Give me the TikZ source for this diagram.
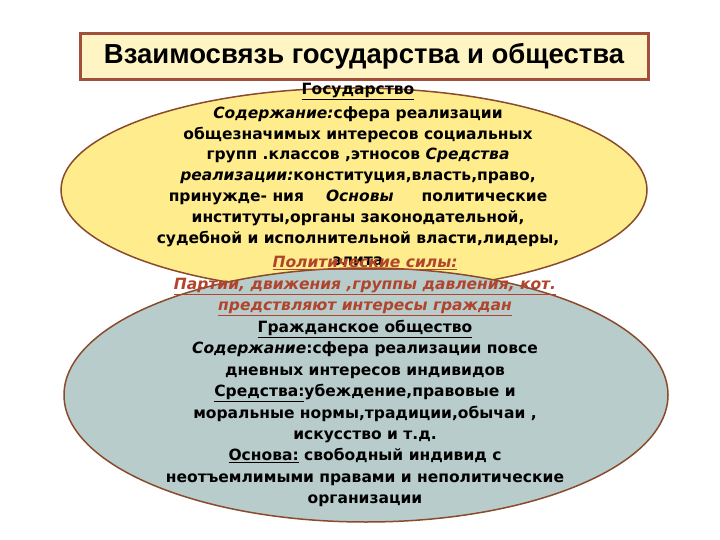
\documentclass[tikz,border=0pt]{standalone}
\usepackage{fontspec}
\setmainfont{DejaVu Sans}
\newfontfamily\zagfont{Liberation Sans}
\usetikzlibrary{positioning,shapes.geometric}

\definecolor{rama}{HTML}{A0503C}
\definecolor{obvod}{HTML}{8A4A2C}
\definecolor{shapka}{HTML}{FFF5C4}
\definecolor{zheltyj}{HTML}{FFEC8C}
\definecolor{seryj}{HTML}{B9CCCC}
\definecolor{krasnyj}{HTML}{B0442C}

\begin{document}
\begin{tikzpicture}[x=1pt, y=-1pt,
                    oval/.style={ellipse,draw=obvod,line width=1.5pt,inner sep=0pt},
                    tekst/.style={align=center,inner sep=0pt,font=\bfseries\fontsize{15.5}{20.8}\selectfont}]

\useasboundingbox (0,0) rectangle (720,540);

\node[draw=rama, fill=shapka, line width=3pt, minimum width=568pt, minimum height=46pt,
      font=\zagfont\bfseries\fontsize{27.5}{32}\selectfont] (zag) at (364,56.5)
      {Взаимосвязь государства и общества};

\node[oval, fill=zheltyj, minimum width=586pt, minimum height=204pt] (gos) at (354,190) {};

\node[tekst, anchor=north] (gostekst) at (358,83)
  {\underline{Государство}\\[3pt]
   \textit{Содержание:}сфера реализации\\
   общезначимых интересов социальных\\
   групп .классов ,этносов \textit{Средства}\\
   \textit{реализации:}конституция,власть,право,\\
   принужде- ния\hspace{22pt}\textit{Основы}\hspace{28pt}политические\\
   институты,органы законодательной,\\
   судебной и исполнительной власти,лидеры,\\[2pt]
   элита};

\node[oval, fill=seryj, minimum width=604pt, minimum height=254pt] (obsh) at (366,395) {};

\node[tekst, text=krasnyj, anchor=north, font=\bfseries\fontsize{15.5}{21.5}\selectfont] (sily) at (365,256)
  {\textit{\underline{Политические силы:}}\\
   \textit{\underline{Партии, движения ,группы давления, кот.}}\\
   \textit{\underline{предствляют интересы граждан}}};

\node[tekst, below=4pt of sily, font=\bfseries\fontsize{15.5}{21.4}\selectfont] (obshtekst)
  {\underline{Гражданское общество}\\
   \textit{Содержание}:сфера реализации повсе\\
   дневных интересов индивидов\\
   \underline{Средства:}убеждение,правовые и\\
   моральные нормы,традиции,обычаи ,\\
   искусство и т.д.\\
   \underline{Основа:} свободный индивид с\\
   неотъемлимыми правами и неполитические\\
   организации};

\end{tikzpicture}
\end{document}
